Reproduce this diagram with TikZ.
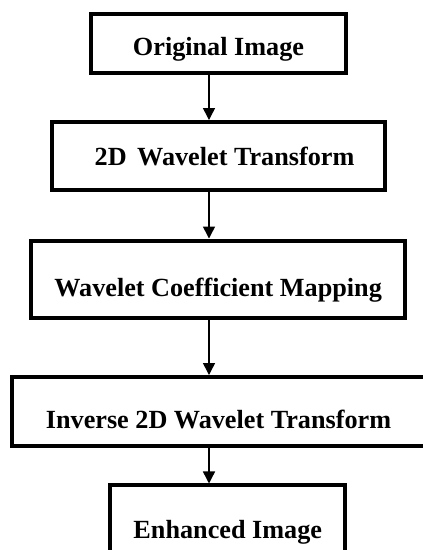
\documentclass[tikz,border=0pt]{standalone}
\usepackage{fontspec}
\setmainfont{Liberation Serif}
\usetikzlibrary{arrows.meta}
\tikzset{
  box/.style={draw=black, line width=3pt, rectangle, inner sep=0pt, align=center,
    font=\fontsize{19.65}{22}\selectfont\bfseries, text depth=0pt},
  arr/.style={draw=black, line width=1.1pt, -{Triangle[length=9pt,width=9pt]}}
}
\begin{document}
\begin{tikzpicture}[x=0.75pt,y=-0.75pt]
\useasboundingbox (0,0) rectangle (423,550);
\clip (0,0) rectangle (423,550);
\fill[white] (0,0) rectangle (423,550);
\node[box, minimum width=191.7pt, minimum height=43.8pt, text height=17.25pt] (b1) at (218.5,43.5) {Original Image};
\node[box, minimum width=250pt, minimum height=51.2pt, text height=14.7pt] (b2) at (218.65,156.15) {\hspace*{8.8pt}2D\hspace{3pt} Wavelet Transform};
\node[box, minimum width=280.7pt, minimum height=58.1pt, text height=26.25pt] (b3) at (218.15,279.25) {Wavelet Coefficient Mapping};
\node[box, minimum width=309.75pt, minimum height=52.1pt, text height=24.45pt] (b4) at (218.5,411.75) {Inverse 2D Wavelet Transform};
\node[box, minimum width=176.6pt, minimum height=70.9pt, text height=7.9pt] (b5) at (227.75,532.75) {Enhanced Image};
\coordinate (ax) at (209,0);
\draw[arr] (b1.south -| ax) -- (b2.north -| ax);
\draw[arr] (b2.south -| ax) -- (b3.north -| ax);
\draw[arr] (b3.south -| ax) -- (b4.north -| ax);
\draw[arr] (b4.south -| ax) -- (b5.north -| ax);
\end{tikzpicture}
\end{document}
